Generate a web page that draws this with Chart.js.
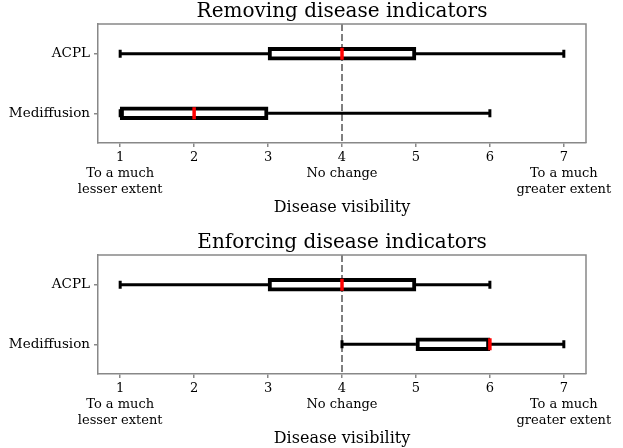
<!DOCTYPE html>
<html>
<head>
<meta charset="utf-8">
<script src="https://cdn.jsdelivr.net/npm/chart.js@4"></script>
<style>
  html, body { margin: 0; padding: 0; background: #fff; }
  .panel { position: absolute; left: 0; width: 623px; }
</style>
</head>
<body>
<div class="panel" style="top:0;height:224px"><canvas id="removing-chart"></canvas></div>
<div class="panel" style="top:231px;height:217px"><canvas id="enforcing-chart"></canvas></div>
<script>
const categories = ["ACPL", "Mediffusion"];

// Removing disease indicators
const removeMin = [1, 1];
const removeQ1 = [3, 1];
const removeMedian = [4, 2];
const removeQ3 = [5, 3];
const removeMax = [7, 6];

// Enforcing disease indicators
const enforceMin = [1, 4];
const enforceQ1 = [3, 5];
const enforceMedian = [4, 6];
const enforceQ3 = [5, 6];
const enforceMax = [6, 7];

const xTicks = [1, 2, 3, 4, 5, 6, 7];
const xTickLabels = [
  ["1", "To a much", "lesser extent"],
  "2",
  "3",
  ["4", "No change"],
  "5",
  "6",
  ["7", "To a much", "greater extent"],
];
const neutralValue = 4;

const FONT = "'DejaVu Serif', serif";
const FRAME = "#888";

// whiskers, caps, medians, dashed reference line, title and top/right frame
const boxPlugin = {
  id: "boxStats",
  beforeDatasetsDraw(chart, args, opts) {
    const { ctx, chartArea, scales } = chart;
    const x = scales.x.getPixelForValue(neutralValue);
    ctx.save();
    ctx.strokeStyle = "#7f7f7f";
    ctx.lineWidth = 2;
    ctx.setLineDash([7, 3]);
    ctx.beginPath();
    ctx.moveTo(x, chartArea.top);
    ctx.lineTo(x, chartArea.bottom);
    ctx.stroke();
    ctx.restore();
  },
  afterDatasetsDraw(chart, args, opts) {
    const { ctx, chartArea, scales } = chart;
    const xs = scales.x;
    ctx.save();
    categories.forEach((c, i) => {
      const y = scales.y.getPixelForValue(i);
      const pMin = xs.getPixelForValue(opts.min[i]);
      const pQ1 = xs.getPixelForValue(opts.q1[i]);
      const pQ3 = xs.getPixelForValue(opts.q3[i]);
      const pMax = xs.getPixelForValue(opts.max[i]);
      const pMed = xs.getPixelForValue(opts.median[i]);
      ctx.strokeStyle = "#000";
      ctx.lineWidth = 3;
      ctx.lineCap = "butt";
      ctx.beginPath();
      ctx.moveTo(pMin, y); ctx.lineTo(pQ1, y);
      ctx.moveTo(pQ3, y); ctx.lineTo(pMax, y);
      ctx.stroke();
      // caps
      ctx.beginPath();
      ctx.moveTo(pMin, y - 4); ctx.lineTo(pMin, y + 4);
      ctx.moveTo(pMax, y - 4); ctx.lineTo(pMax, y + 4);
      ctx.stroke();
      // median
      ctx.strokeStyle = "#ff0000";
      ctx.lineWidth = 3.5;
      ctx.beginPath();
      ctx.moveTo(pMed, y - 6); ctx.lineTo(pMed, y + 6);
      ctx.stroke();
    });
    ctx.strokeStyle = FRAME;
    ctx.lineWidth = 1.5;
    ctx.beginPath();
    ctx.moveTo(chartArea.left, chartArea.top);
    ctx.lineTo(chartArea.right, chartArea.top);
    ctx.lineTo(chartArea.right, chartArea.bottom);
    ctx.stroke();
    // title centred over the plot area, like matplotlib does
    ctx.fillStyle = "#000";
    ctx.font = "20px " + FONT;
    ctx.textAlign = "center";
    ctx.textBaseline = "middle";
    ctx.fillText(opts.title, (chartArea.left + chartArea.right) / 2, chartArea.top - 12);
    ctx.restore();
  },
};

function makeChart(canvasId, title, stats, padBottom) {
  const boxData = stats.q1.map((q, i) => [q, stats.q3[i]]);
  const ctx = document.getElementById(canvasId).getContext("2d");
  return new Chart(ctx, {
    type: "bar",
    data: {
      labels: categories,
      datasets: [
        {
          data: boxData,
          backgroundColor: "#fff",
          borderColor: "#000",
          borderWidth: 4,
          borderSkipped: false,
          barThickness: 13,
        },
      ],
    },
    options: {
      indexAxis: "y",
      responsive: true,
      maintainAspectRatio: false,
      animation: false,
      layout: { padding: { left: 0, right: 37, top: 24, bottom: padBottom } },
      plugins: {
        legend: { display: false },
        tooltip: { enabled: false },
        title: { display: false },
        boxStats: Object.assign({ title: title }, stats),
      },
      scales: {
        x: {
          type: "linear",
          min: 0.7,
          max: 7.3,
          afterBuildTicks: (s) => {
            s.ticks = xTicks.map((v) => ({ value: v }));
          },
          afterFit: (s) => {
            s.height = 74;
          },
          ticks: {
            callback: (v) => xTickLabels[xTicks.indexOf(v)],
            color: "#000",
            font: { family: FONT, size: 13, lineHeight: 1.23 },
            padding: 3,
            maxRotation: 0,
            autoSkip: false,
          },
          grid: { drawOnChartArea: false, drawTicks: true, tickLength: 4, color: FRAME, lineWidth: 1.5 },
          border: { color: FRAME, width: 1.5 },
          title: {
            display: true,
            text: "Disease visibility",
            color: "#000",
            font: { family: FONT, size: 16 },
            padding: 0,
          },
        },
        y: {
          afterFit: (s) => {
            s.width = 98;
          },
          ticks: {
            color: "#000",
            font: { family: FONT, size: 13.5 },
            padding: 4,
          },
          grid: { offset: false, drawOnChartArea: false, drawTicks: true, tickLength: 4, color: FRAME, lineWidth: 1.5 },
          border: { color: FRAME, width: 1.5 },
        },
      },
    },
    plugins: [boxPlugin],
  });
}

makeChart("removing-chart", "Removing disease indicators", {
  min: removeMin, q1: removeQ1, median: removeMedian, q3: removeQ3, max: removeMax,
}, 7);

makeChart("enforcing-chart", "Enforcing disease indicators", {
  min: enforceMin, q1: enforceQ1, median: enforceMedian, q3: enforceQ3, max: enforceMax,
}, 0);
</script>
</body>
</html>
